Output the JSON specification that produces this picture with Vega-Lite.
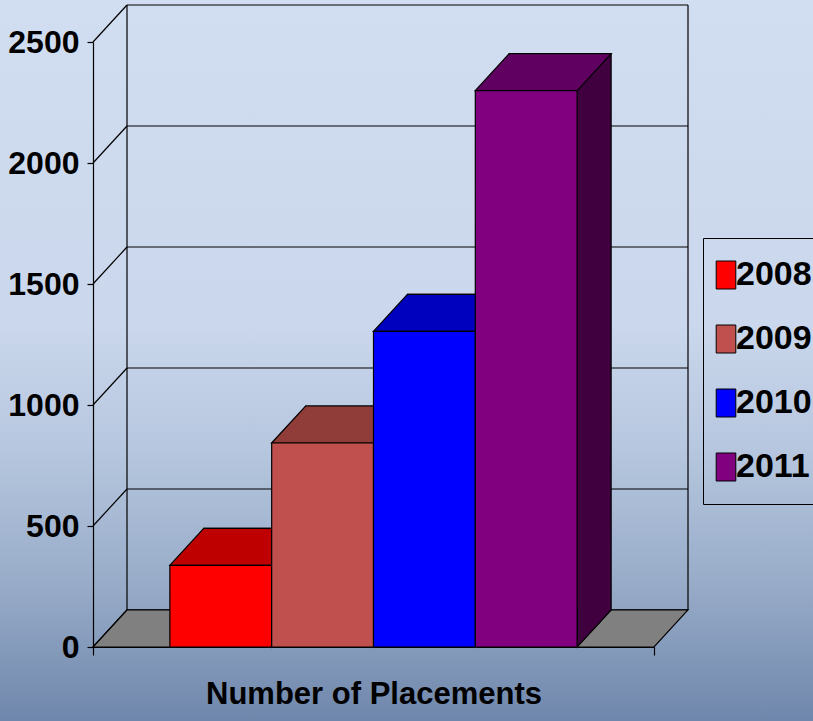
{
  "$schema": "https://vega.github.io/schema/vega-lite/v6.json",
  "width": 561,
  "height": 605,
  "autosize": {"type": "none"},
  "padding": {"left": 93, "top": 42, "right": 159, "bottom": 74},
  "background": "#B4C4DD",
  "config": {
    "view": {"stroke": null},
    "font": "Liberation Sans"
  },
  "datasets": {
    "placements": [
      {"category": "Number of Placements", "year": "2008", "placements": 337},
      {"category": "Number of Placements", "year": "2009", "placements": 843},
      {"category": "Number of Placements", "year": "2010", "placements": 1304},
      {"category": "Number of Placements", "year": "2011", "placements": 2299}
    ],
    "levels": [{"v": 0}, {"v": 500}, {"v": 1000}, {"v": 1500}, {"v": 2000}, {"v": 2500}]
  },
  "layer": [
    {
      "data": {"values": [{}]},
      "mark": {
        "type": "rect",
        "xOffset": -93, "x2Offset": 159, "yOffset": -42, "y2Offset": 74,
        "color": {
          "gradient": "linear", "x1": 0, "y1": 0, "x2": 0, "y2": 1,
          "stops": [
            {"offset": 0, "color": "#D1DDF0"},
            {"offset": 0.45, "color": "#CAD7EC"},
            {"offset": 0.62, "color": "#B7C7DF"},
            {"offset": 0.82, "color": "#96AAC7"},
            {"offset": 1, "color": "#6F87AC"}
          ]
        }
      },
      "encoding": {
        "x": {"value": 0}, "x2": {"value": "width"},
        "y": {"value": 0}, "y2": {"value": "height"}
      }
    },
    {
      "data": {"name": "levels"},
      "mark": {"type": "rule", "color": "black", "strokeWidth": 1.2, "xOffset": 34, "x2Offset": 34, "yOffset": -37, "y2Offset": -37},
      "encoding": {
        "x": {"value": 0},
        "x2": {"value": "width"},
        "y": {
          "field": "v", "type": "quantitative",
          "scale": {"domain": [0, 2500], "nice": false, "zero": true},
          "axis": {
            "zindex": 1,
            "values": [0, 500, 1000, 1500, 2000, 2500],
            "format": "d",
            "title": null,
            "grid": false,
            "domainColor": "black",
            "domainWidth": 1.2,
            "tickColor": "black",
            "tickWidth": 1.2,
            "tickSize": 6,
            "labelPadding": 8,
            "labelFont": "Liberation Sans",
            "labelFontSize": 32,
            "labelFontWeight": "bold",
            "labelColor": "black"
          }
        },
        "y2": {"field": "v"}
      }
    },
    {
      "data": {"name": "levels"},
      "mark": {"type": "rule", "color": "black", "strokeWidth": 1.2, "x2Offset": 34, "y2Offset": -37},
      "encoding": {
        "x": {"value": 0},
        "x2": {"value": 0},
        "y": {"field": "v", "type": "quantitative"},
        "y2": {"field": "v"}
      }
    },
    {
      "data": {"values": [{}]},
      "mark": {"type": "rule", "color": "black", "strokeWidth": 1.2, "xOffset": 34, "yOffset": -37, "y2Offset": -37},
      "encoding": {
        "x": {"value": 0},
        "y": {"datum": 0, "type": "quantitative"},
        "y2": {"datum": 2500}
      }
    },
    {
      "data": {"values": [{}]},
      "mark": {"type": "rule", "color": "black", "strokeWidth": 1.2, "xOffset": 34, "yOffset": -37, "y2Offset": -37},
      "encoding": {
        "x": {"value": "width"},
        "y": {"datum": 0, "type": "quantitative"},
        "y2": {"datum": 2500}
      }
    },
    {
      "data": {"values": [{}]},
      "mark": {
        "type": "point", "filled": true, "opacity": 1, "fill": "#808080", "stroke": "black", "strokeWidth": 1.2,
        "size": 1258884,
        "shape": "M 0 0 L 0.0606 -0.066 L 1.0606 -0.066 L 1 0 Z"
      },
      "encoding": {
        "x": {"value": 0},
        "y": {"datum": 0, "type": "quantitative"}
      }
    },
    {
      "data": {"name": "placements"},
      "mark": {"type": "bar", "fill": "#400040", "stroke": "black", "strokeWidth": 1.2, "xOffset": 34, "yOffset": -37, "y2Offset": -37},
      "encoding": {
        "x": {"field": "year", "type": "nominal", "scale": {"type": "band", "paddingInner": 0, "paddingOuter": 0.755}, "axis": null},
        "y": {"field": "placements", "type": "quantitative"}
      }
    },
    {
      "data": {"name": "placements"},
      "mark": {
        "type": "point", "filled": true, "opacity": 1, "fill": "#400040", "stroke": "black", "strokeWidth": 1.2,
        "size": 40000,
        "shape": "M 0.51 -0.38 L 0.51 0 L 0.85 -0.37 L 0.85 -0.38"
      },
      "encoding": {
        "x": {"field": "year", "type": "nominal", "scale": {"type": "band", "paddingInner": 0, "paddingOuter": 0.755}, "axis": null},
        "y": {"datum": 0, "type": "quantitative"}
      }
    },
    {
      "data": {"name": "placements"},
      "mark": {
        "type": "point", "filled": true, "opacity": 1, "strokeWidth": 0,
        "size": 40000,
        "shape": "M -0.51 0 L -0.17 -0.37 L 0.85 -0.37 L 0.51 0 Z"
      },
      "encoding": {
        "x": {"field": "year", "type": "nominal", "scale": {"type": "band", "paddingInner": 0, "paddingOuter": 0.755}, "axis": null},
        "y": {"field": "placements", "type": "quantitative"},
        "color": {"field": "year", "type": "nominal"}
      }
    },
    {
      "data": {"name": "placements"},
      "mark": {
        "type": "point", "filled": true, "opacity": 1, "fill": "black", "fillOpacity": 0.25, "stroke": "black", "strokeOpacity": 1, "strokeWidth": 1.2,
        "size": 40000,
        "shape": "M -0.51 0 L -0.17 -0.37 L 0.85 -0.37 L 0.51 0 Z"
      },
      "encoding": {
        "x": {"field": "year", "type": "nominal", "scale": {"type": "band", "paddingInner": 0, "paddingOuter": 0.755}, "axis": null},
        "y": {"field": "placements", "type": "quantitative"}
      }
    },
    {
      "data": {"name": "placements"},
      "mark": {"type": "bar", "stroke": "black", "strokeWidth": 1.2, "opacity": 1},
      "encoding": {
        "x": {"field": "year", "type": "nominal", "scale": {"type": "band", "paddingInner": 0, "paddingOuter": 0.755}, "axis": null},
        "y": {"field": "placements", "type": "quantitative"},
        "color": {
          "field": "year", "type": "nominal",
          "scale": {"domain": ["2008", "2009", "2010", "2011"], "range": ["#FF0000", "#C0504D", "#0000FF", "#800080"]},
          "legend": {
            "zindex": 1,
            "title": null,
            "orient": "none",
            "legendX": 610,
            "legendY": 196,
            "strokeColor": "black",
            "padding": 20,
            "symbolType": "M -0.7 -1 L 0.7 -1 L 0.7 1 L -0.7 1 Z",
            "symbolSize": 784,
            "symbolStrokeColor": "black",
            "symbolStrokeWidth": 1,
            "symbolOpacity": 1,
            "symbolOffset": -14,
            "labelOffset": -7,
            "labelFont": "Liberation Sans",
            "labelFontSize": 34,
            "labelFontWeight": "bold",
            "labelColor": "black",
            "rowPadding": 30,
            "labelLimit": 300
          }
        }
      }
    },
    {
      "data": {"values": [{"category": "Number of Placements"}]},
      "mark": {"type": "point", "opacity": 0},
      "encoding": {
        "x": {
          "field": "category", "type": "nominal",
          "scale": {"paddingInner": 0, "paddingOuter": 0},
          "axis": {
            "zindex": 1,
            "orient": "bottom",
            "title": null,
            "tickBand": "extent",
            "domainColor": "black",
            "domainWidth": 1.2,
            "tickColor": "black",
            "tickWidth": 1.2,
            "tickSize": 8,
            "labelPadding": 24,
            "labelAngle": 0,
            "labelFont": "Liberation Sans",
            "labelFontSize": 31,
            "labelFontWeight": "bold",
            "labelColor": "black",
            "labelLimit": 600
          }
        }
      }
    }
  ],
  "resolve": {"scale": {"x": "independent"}, "axis": {"x": "independent"}}
}
